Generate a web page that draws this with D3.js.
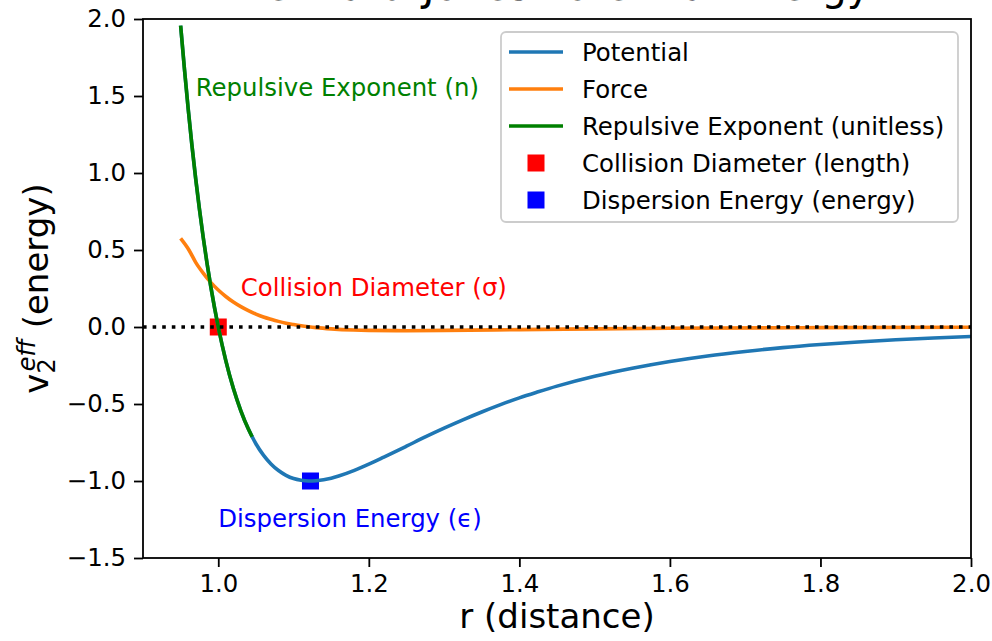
<!DOCTYPE html>
<html>
<head>
<meta charset="utf-8">
<script src="https://cdn.jsdelivr.net/npm/d3@7"></script>
<style>
  body { margin: 0; background: #fff; }
  text { font-family: "DejaVu Sans", sans-serif; }
</style>
</head>
<body>
<div id="chart"></div>
<script>
// values
var potR = [0.95, 0.955, 0.96, 0.965, 0.97, 0.975, 0.98, 0.985, 0.99, 0.995, 1.0, 1.01, 1.02, 1.03, 1.04, 1.05, 1.06, 1.07, 1.08, 1.09, 1.10, 1.11, 1.12, 1.13, 1.14, 1.15, 1.16, 1.18, 1.2, 1.22, 1.25, 1.275, 1.3, 1.325, 1.35, 1.375, 1.4, 1.425, 1.45, 1.5, 1.55, 1.6, 1.65, 1.7, 1.75, 1.8, 1.85, 1.9, 1.95, 2.0]
var potV = [1.957, 1.678, 1.418, 1.180, 0.963, 0.764, 0.582, 0.416, 0.264, 0.126, 0.0, -0.218, -0.398, -0.544, -0.663, -0.758, -0.832, -0.889, -0.932, -0.963, -0.984, -0.995, -1.0, -0.998, -0.992, -0.982, -0.968, -0.933, -0.891, -0.845, -0.774, -0.714, -0.657, -0.603, -0.552, -0.504, -0.460, -0.421, -0.384, -0.320, -0.268, -0.224, -0.188, -0.159, -0.134, -0.114, -0.097, -0.083, -0.071, -0.062]
var forceR = [0.95, 0.961, 0.97, 0.98, 0.99, 1.0, 1.01, 1.02, 1.03, 1.04, 1.05, 1.06, 1.07, 1.08, 1.09, 1.10, 1.11, 1.12, 1.13, 1.15, 1.18, 1.2, 1.25, 1.3, 1.4, 1.5, 1.6, 1.8, 2.0]
var forceV = [0.575, 0.50, 0.42, 0.35, 0.29, 0.24, 0.198, 0.162, 0.132, 0.106, 0.084, 0.065, 0.05, 0.0365, 0.025, 0.016, 0.008, 0.0015, -0.004, -0.012, -0.0195, -0.022, -0.024, -0.022, -0.017, -0.012, -0.008, -0.004, -0.002]
var repR = [0.95, 0.955, 0.96, 0.965, 0.97, 0.975, 0.98, 0.985, 0.99, 0.995, 1.0, 1.01, 1.02, 1.03, 1.04, 1.045]
var repV = [1.957, 1.678, 1.418, 1.180, 0.963, 0.764, 0.582, 0.416, 0.264, 0.126, 0.0, -0.218, -0.398, -0.544, -0.663, -0.713]
var sigmaPt = [1.0, 0.0]
var epsPt = [1.1225, -1.0]
var xTicks = [1.0, 1.2, 1.4, 1.6, 1.8, 2.0]
var yTicks = [-1.5, -1.0, -0.5, 0.0, 0.5, 1.0, 1.5, 2.0]
var legendNames = ["Potential", "Force", "Repulsive Exponent (unitless)", "Collision Diameter (length)", "Dispersion Energy (energy)"]
var legendColors = ["#1f77b4", "#ff7f0e", "green", "red", "blue"]
var legendKinds = ["line", "line", "line", "square", "square"]

var width = 992, height = 641
var pLeft = 143, pRight = 971, pTop = 19, pBottom = 558

var svg = d3.select("#chart").append("svg")
    .attr("width", width)
    .attr("height", height)

var x = d3.scaleLinear().domain([0.9, 2.0]).range([pLeft, pRight])
var y = d3.scaleLinear().domain([-1.5, 2.0]).range([pBottom, pTop])

svg.append("clipPath").attr("id", "clip")
  .append("rect").attr("x", pLeft).attr("y", pTop).attr("width", pRight - pLeft).attr("height", pBottom - pTop)

// title, mostly cut off at the top edge
svg.append("text")
    .attr("x", (pLeft + pRight) / 2)
    .attr("y", 0)
    .attr("text-anchor", "middle")
    .attr("font-size", 40)
    .text("Lennard-Jones Potential Energy")

var plot = svg.append("g").attr("clip-path", "url(#clip)")

function pts(rs, vs) { return rs.map(function(r, i) { return [r, vs[i]] }) }
var line = d3.line()
    .x(function(d) { return x(d[0]) })
    .y(function(d) { return y(d[1]) })
    .curve(d3.curveMonotoneX)

var sq = 17
plot.append("rect")
    .attr("x", x(sigmaPt[0]) - sq / 2).attr("y", y(sigmaPt[1]) - sq / 2)
    .attr("width", sq).attr("height", sq).attr("fill", "red")
plot.append("rect")
    .attr("x", x(epsPt[0]) - sq / 2).attr("y", y(epsPt[1]) - sq / 2)
    .attr("width", sq).attr("height", sq).attr("fill", "blue")

plot.append("path").datum(pts(potR, potV))
    .attr("d", line).attr("fill", "none").attr("stroke", "#1f77b4").attr("stroke-width", 3.6)
plot.append("path").datum(pts(forceR, forceV))
    .attr("d", line).attr("fill", "none").attr("stroke", "#ff7f0e").attr("stroke-width", 3.6)
plot.append("path").datum(pts(repR, repV))
    .attr("d", line).attr("fill", "none").attr("stroke", "green").attr("stroke-width", 3.6)

plot.append("line")
    .attr("x1", pLeft).attr("x2", pRight)
    .attr("y1", y(0)).attr("y2", y(0))
    .attr("stroke", "black").attr("stroke-width", 3.6)
    .attr("stroke-dasharray", "3.6,6")

// annotations
svg.append("text").attr("x", x(0.97)).attr("y", y(1.5))
    .attr("font-size", 24.4).attr("fill", "green").text("Repulsive Exponent (n)")
svg.append("text").attr("x", x(1.03)).attr("y", y(0.2))
    .attr("font-size", 24.4).attr("fill", "red").text("Collision Diameter (σ)")
svg.append("text").attr("x", x(1.0)).attr("y", y(-1.3))
    .attr("font-size", 24.4).attr("fill", "blue").text("Dispersion Energy (ϵ)")

// axes
var xAxis = svg.append("g")
    .attr("transform", "translate(0," + pBottom + ")")
    .call(d3.axisBottom(x).tickValues(xTicks).tickFormat(d3.format(".1f")).tickSize(9).tickPadding(8))
var yAxis = svg.append("g")
    .attr("transform", "translate(" + pLeft + ",0)")
    .call(d3.axisLeft(y).tickValues(yTicks).tickFormat(d3.format(".1f")).tickSize(9).tickPadding(8))
;[xAxis, yAxis].forEach(function(a) {
  a.select(".domain").remove()
  a.selectAll(".tick line").attr("stroke", "black").attr("stroke-width", 1.8)
  a.selectAll(".tick text").attr("font-size", 24.4).attr("fill", "black")
    .style("font-family", "DejaVu Sans, sans-serif")
})

svg.append("rect")
    .attr("x", pLeft).attr("y", pTop)
    .attr("width", pRight - pLeft).attr("height", pBottom - pTop)
    .attr("fill", "none").attr("stroke", "black").attr("stroke-width", 1.8)

svg.append("text")
    .attr("x", (pLeft + pRight) / 2).attr("y", 628)
    .attr("text-anchor", "middle").attr("font-size", 34)
    .text("r (distance)")

var yl = svg.append("text")
    .attr("transform", "translate(48," + ((pTop + pBottom) / 2) + ") rotate(-90)")
    .attr("text-anchor", "middle").attr("font-size", 34)
yl.append("tspan").text("v")
yl.append("tspan").attr("font-size", 24).attr("dy", 7).text("2")
yl.append("tspan").attr("font-size", 24).attr("font-style", "italic").attr("dx", -13).attr("dy", -20).text("eff")
yl.append("tspan").attr("dy", 13).text(" (energy)")

// legend
var lg = svg.append("g").attr("transform", "translate(501,32)")
lg.append("rect")
    .attr("width", 457).attr("height", 190).attr("rx", 5)
    .attr("fill", "white").attr("fill-opacity", 0.8)
    .attr("stroke", "#cccccc").attr("stroke-width", 1.8)
var rows = lg.selectAll("g.row").data(legendNames).enter().append("g")
    .attr("class", "row")
    .attr("transform", function(d, i) { return "translate(0," + (20 + i * 37) + ")" })
rows.each(function(d, i) {
  var g = d3.select(this)
  if (legendKinds[i] == "line") {
    g.append("line").attr("x1", 8).attr("x2", 62).attr("y1", 0).attr("y2", 0)
      .attr("stroke", legendColors[i]).attr("stroke-width", 3.6)
  } else {
    g.append("rect").attr("x", 35 - sq / 2).attr("y", -sq / 2)
      .attr("width", sq).attr("height", sq).attr("fill", legendColors[i])
  }
  g.append("text").attr("x", 81).attr("y", 8.5)
    .attr("font-size", 24.4).text(d)
})
</script>
</body>
</html>
